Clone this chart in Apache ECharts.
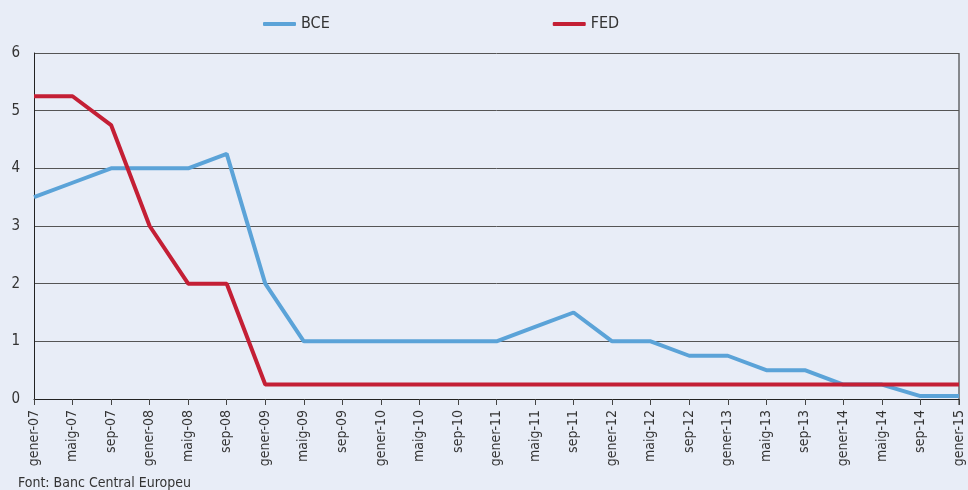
<!DOCTYPE html>
<html>
<head>
<meta charset="utf-8">
<script src="https://cdn.jsdelivr.net/npm/echarts@6/dist/echarts.min.js"></script>
<style>
  html, body { margin: 0; padding: 0; background: #e8edf7; }
  #chart { width: 968px; height: 490px; }
</style>
</head>
<body>
<div id="chart"></div>
<script>
const FONT = "'Liberation Sans Narrow', 'DejaVu Sans Condensed', 'Liberation Sans', sans-serif";

const months = [
  "gener-07", "maig-07", "sep-07", "gener-08", "maig-08", "sep-08",
  "gener-09", "maig-09", "sep-09", "gener-10", "maig-10", "sep-10",
  "gener-11", "maig-11", "sep-11", "gener-12", "maig-12", "sep-12",
  "gener-13", "maig-13", "sep-13", "gener-14", "maig-14", "sep-14", "gener-15",
];

const bce = [
  3.5, 3.75, 4, 4, 4, 4.25,
  2, 1, 1, 1, 1, 1,
  1, 1.25, 1.5, 1, 1, 0.75,
  0.75, 0.5, 0.5, 0.25, 0.25, 0.05, 0.05,
];

const fed = [
  5.25, 5.25, 4.75, 3, 2, 2,
  0.25, 0.25, 0.25, 0.25, 0.25, 0.25,
  0.25, 0.25, 0.25, 0.25, 0.25, 0.25,
  0.25, 0.25, 0.25, 0.25, 0.25, 0.25, 0.25,
];

const chart = echarts.init(document.getElementById("chart"));
chart.setOption({
  backgroundColor: "#e8edf7",
  textStyle: { fontFamily: FONT },
  legend: {
    top: 11,
    left: 258,
    itemGap: 223,
    itemWidth: 33,
    itemHeight: 4,
    icon: "roundRect",
    textStyle: { fontFamily: FONT, fontSize: 16, color: "#333" },
    data: ["BCE", "FED"],
  },
  grid: { top: 53, left: 34, right: 9, bottom: 91 },
  xAxis: {
    type: "category",
    data: months,
    boundaryGap: false,
    axisLine: { lineStyle: { color: "#222", width: 1 } },
    axisTick: { show: true, length: 6, lineStyle: { color: "#444" } },
    axisLabel: {
      rotate: 90,
      interval: 0,
      margin: 11,
      fontSize: 14,
      color: "#333",
      fontFamily: FONT,
    },
    splitLine: { show: false },
  },
  yAxis: {
    type: "value",
    min: 0,
    max: 6,
    interval: 1,
    axisLine: { show: true, lineStyle: { color: "#222" } },
    axisTick: { show: false },
    axisLabel: { fontSize: 15, color: "#333", margin: 14, fontFamily: FONT },
    splitLine: { lineStyle: { color: "#555", width: 1 } },
  },
  series: [
    {
      name: "BCE",
      type: "line",
      data: bce,
      showSymbol: false,
      lineStyle: { color: "#5ba3d8", width: 4 },
      itemStyle: { color: "#5ba3d8" },
    },
    {
      name: "FED",
      type: "line",
      data: fed,
      showSymbol: false,
      lineStyle: { color: "#c41f35", width: 4 },
      itemStyle: { color: "#c41f35" },
    },
  ],
  graphic: [
    {
      type: "line",
      shape: { x1: 959, y1: 53, x2: 959, y2: 405 },
      style: { stroke: "#222", lineWidth: 1 },
    },
    {
      type: "text",
      left: 18,
      top: 476,
      style: { text: "Font: Banc Central Europeu", fill: "#333", font: "14px " + FONT },
    },
  ],
});
</script>
</body>
</html>
